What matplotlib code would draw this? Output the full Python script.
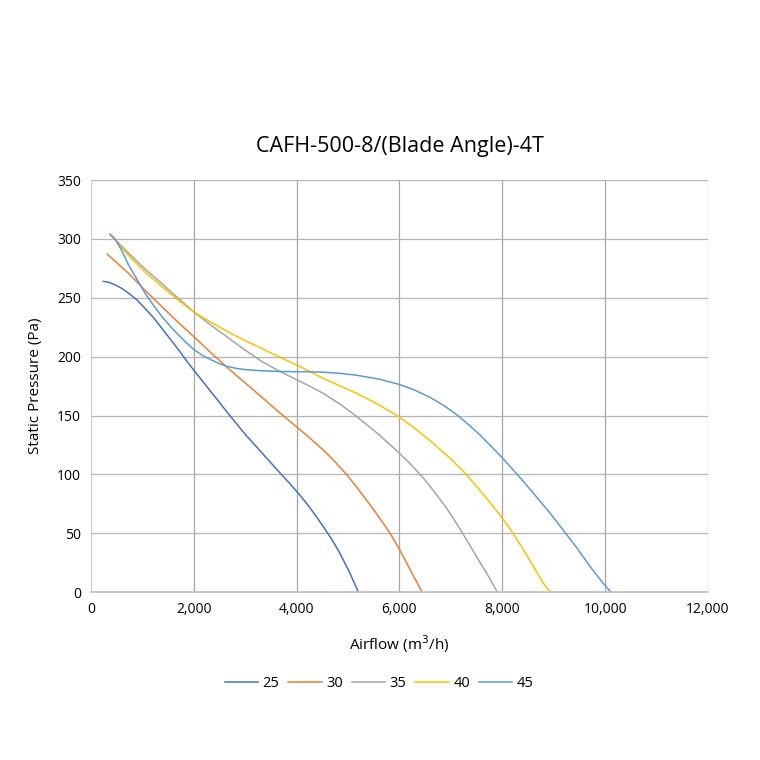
import matplotlib
matplotlib.use("Agg")
import matplotlib.pyplot as plt
from matplotlib.ticker import FuncFormatter

plt.rcParams['font.family'] = ['Open Sans', 'DejaVu Sans']

# Curvas (caudal m3/h, presión Pa)
angulos = ['25', '30', '35', '40', '45']
colores = ['#4472C4', '#ED7D31', '#A5A5A5', '#FFC000', '#5B9BD5']

x25 = [240, 360, 470, 600, 730, 900, 1050, 1220, 1380, 1540, 1700, 1850, 2000, 2190, 2410,
       2700, 3000, 3350, 3680, 3870, 4040, 4200, 4360, 4520, 4680, 4840, 5020, 5200]
y25 = [264, 263, 261, 258, 254, 248, 241, 233, 224, 215, 206, 197, 188.5, 178, 166,
       150, 134, 117, 101, 92, 83.5, 75, 65.5, 55.5, 45, 33, 17.5, 0]

x30 = [320, 730, 1050, 1380, 1700, 2000, 2340, 2670, 3030, 3390, 3680, 3870, 4200,
       4520, 4750, 4980, 5170, 5360, 5530, 5690, 5850, 5990, 6100, 6210, 6330, 6440]
y30 = [287, 270.8, 256.5, 242.4, 229, 217, 203, 190, 176.5, 163, 152, 145, 133,
       120.6, 110.5, 99.4, 89, 78, 68, 58, 47.5, 37, 28, 18.7, 9, 0]

x35 = [370, 550, 730, 1050, 1380, 1700, 2000, 2340, 2670, 3000, 3320, 3650, 3970,
       4250, 4520, 4850, 5170, 5580, 5990, 6230, 6470, 6700, 6920, 7120, 7310, 7500,
       7700, 7800, 7900]
y35 = [304, 296, 288, 274.5, 262, 249.5, 238, 226.5, 216, 205.5, 196, 188, 181,
       175, 168.8, 159.5, 149, 134.5, 118.3, 108, 96.6, 84, 71, 57.5, 44, 30,
       15.6, 8, 0]

x40 = [370, 550, 730, 1050, 1380, 1700, 2000, 2340, 2670, 3000, 3320, 3650, 3970,
       4250, 4520, 4850, 5170, 5580, 5990, 6330, 6660, 7000, 7310, 7650, 7980, 8200,
       8410, 8600, 8800, 8880, 8950]
y40 = [304, 295, 286, 272, 259.5, 248, 238, 229, 221, 213.5, 207, 200, 193.5,
       187.5, 181.5, 175, 168.8, 159.5, 149, 138, 126.3, 113, 99.4, 82, 64, 50.5,
       36, 22, 7.4, 2.5, 0]

x45 = [370, 470, 600, 730, 890, 1050, 1210, 1380, 1540, 1700, 1850, 2000, 2170,
       2350, 2510, 2670, 2830, 3000, 3320, 3650, 3970, 4200, 4520, 4850, 5170, 5590,
       5990, 6300, 6600, 6860, 7120, 7350, 7570, 7980, 8410, 8930, 9450, 9700, 9970,
       10110]
y45 = [304, 300, 290, 278, 266, 254, 244, 234, 226, 218.5, 212, 206, 201,
       197, 193.8, 191.5, 190, 189, 188, 187.4, 187.2, 187.2, 186.8, 185.8, 184.2, 181,
       176.5, 171.5, 165.3, 158.5, 150.5, 142, 133.3, 115, 94, 67, 37.5, 22, 7,
       0]

series = [(x25, y25), (x30, y30), (x35, y35), (x40, y40), (x45, y45)]

fig = plt.figure(figsize=(7.6, 7.6), dpi=100)
ax = fig.add_axes([0.1197, 0.221, 0.8119, 0.542])

for (xs, ys), nombre, c in zip(series, angulos, colores):
    ax.plot(xs, ys, color=c, linewidth=1.1, label=nombre, solid_joinstyle='round')

ax.set_xlim(0, 12000)
ax.set_ylim(0, 350)
ax.set_xticks(range(0, 12001, 2000))
ax.set_yticks(range(0, 351, 50))
ax.xaxis.set_major_formatter(FuncFormatter(lambda v, p: f'{int(v):,}'))
ax.xaxis.grid(True, color='#A6A6A6', linewidth=0.9)
ax.yaxis.grid(True, color='#B4B4B4', linewidth=0.9)
ax.set_axisbelow(True)
for lado in ['top', 'right']:
    ax.spines[lado].set_visible(False)
ax.spines['left'].set_color('#D0D0D0')
ax.spines['bottom'].set_color('#BFBFBF')
ax.spines['bottom'].set_linewidth(1.2)
ax.tick_params(length=0, labelsize=10, colors='black', pad=7)

ax.set_title('CAFH-500-8/(Blade Angle)-4T', fontsize=15.5, pad=20)
ax.set_xlabel('Airflow (m$^3$/h)', fontsize=11, labelpad=12)
ax.set_ylabel('Static Pressure (Pa)', fontsize=11, labelpad=10)

ax.legend(loc='upper center', bbox_to_anchor=(0.467, -0.172), ncol=5, frameon=False,
          fontsize=10.5, handlelength=2.3, columnspacing=0.6, handletextpad=0.3)

fig.savefig('out.png', dpi=100)
